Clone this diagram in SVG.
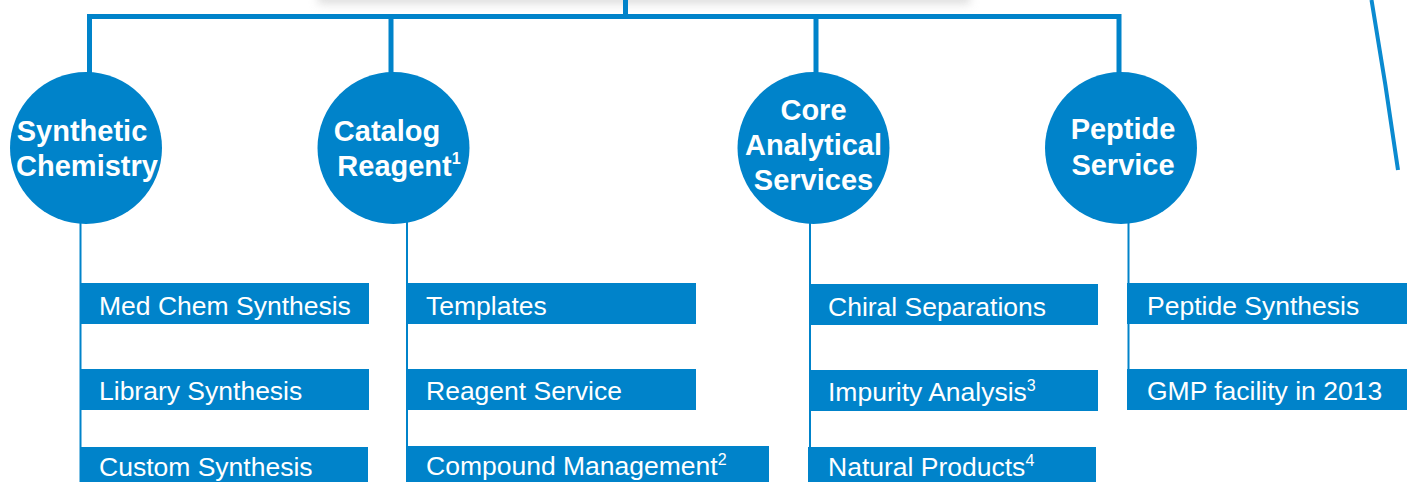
<svg xmlns="http://www.w3.org/2000/svg" width="1407" height="482" viewBox="0 0 1407 482">
<style>
.node{fill:#0083CA}
.ct{font-family:"Liberation Sans",Arial,sans-serif;font-weight:bold;font-size:29px;fill:#fff;text-anchor:middle}
.bt{font-family:"Liberation Sans",Arial,sans-serif;font-size:26.5px;fill:#fff}
.sup{font-size:16px}
.thick{stroke:#0083CA;stroke-width:5;fill:none}
.thin{stroke:#0083CA;stroke-width:2;fill:none}
</style>
<defs>
<filter id="sh" x="-10%" y="-200%" width="120%" height="500%"><feGaussianBlur stdDeviation="5"/></filter>
</defs>
<rect width="1407" height="482" fill="#fff"/>
<rect x="318" y="-40" width="652" height="44" fill="#c8c8c8" opacity="0.6" filter="url(#sh)"/>
<rect x="310" y="-40" width="668" height="40" fill="#fff"/>
<g id="connectors">
<path class="thick" d="M625.5,0 V16.5 M87,16.5 H1121.5 M89.5,16.5 V74 M391,16.5 V74 M816,16.5 V74 M1119,16.5 V74"/>
<path class="thin" d="M80.5,222 V482 M407,222 V447 M810,222 V448 M1128.5,222 V410"/>
<path d="M1371.5,0 Q1386,85 1398,170" stroke="#0a8ad0" stroke-width="4" fill="none"/>
</g>
<g id="synthetic-chemistry">
<circle class="node" cx="86" cy="148" r="76"/>
<text class="ct" x="82" y="141">Synthetic</text>
<text class="ct" x="87" y="176">Chemistry</text>
</g>
<g id="catalog-reagent">
<circle class="node" cx="393.5" cy="148" r="76"/>
<text class="ct" x="387" y="141">Catalog</text>
<text class="ct" x="399" y="176">Reagent<tspan class="sup" font-size="18" dy="-12">1</tspan></text>
</g>
<g id="core-analytical">
<circle class="node" cx="813.5" cy="148" r="76"/>
<text class="ct" x="813.5" y="120">Core</text>
<text class="ct" x="813.5" y="155">Analytical</text>
<text class="ct" x="813.5" y="190">Services</text>
</g>
<g id="peptide-service">
<circle class="node" cx="1121" cy="148" r="76"/>
<text class="ct" x="1123" y="139">Peptide</text>
<text class="ct" x="1123" y="175">Service</text>
</g>
<g id="med-chem">
<rect class="node" x="80" y="283" width="289" height="41"/>
<text class="bt" x="99" y="315">Med Chem Synthesis</text>
</g>
<g id="library">
<rect class="node" x="80" y="369" width="289" height="41"/>
<text class="bt" x="99" y="400">Library Synthesis</text>
</g>
<g id="custom">
<rect class="node" x="80" y="447" width="288" height="40"/>
<text class="bt" x="99" y="476">Custom Synthesis</text>
</g>
<g id="templates">
<rect class="node" x="408" y="283" width="288" height="41"/>
<text class="bt" x="426" y="315">Templates</text>
</g>
<g id="reagent-service">
<rect class="node" x="408" y="369" width="288" height="41"/>
<text class="bt" x="426" y="400">Reagent Service</text>
</g>
<g id="compound-management">
<rect class="node" x="406" y="446" width="363" height="40"/>
<text class="bt" x="426" y="475">Compound Management<tspan class="sup" dy="-10">2</tspan></text>
</g>
<g id="chiral">
<rect class="node" x="809" y="284" width="289" height="41"/>
<text class="bt" x="828" y="316">Chiral Separations</text>
</g>
<g id="impurity">
<rect class="node" x="809" y="370" width="289" height="41"/>
<text class="bt" x="828" y="401">Impurity Analysis<tspan class="sup" dy="-10">3</tspan></text>
</g>
<g id="natural-products">
<rect class="node" x="808" y="447" width="288" height="40"/>
<text class="bt" x="828" y="476">Natural Products<tspan class="sup" dy="-10">4</tspan></text>
</g>
<g id="peptide-synthesis">
<rect class="node" x="1127" y="283" width="280" height="41"/>
<text class="bt" x="1147" y="315">Peptide Synthesis</text>
</g>
<g id="gmp">
<rect class="node" x="1127" y="369" width="280" height="41"/>
<text class="bt" x="1147" y="400">GMP facility in 2013</text>
</g>
</svg>
